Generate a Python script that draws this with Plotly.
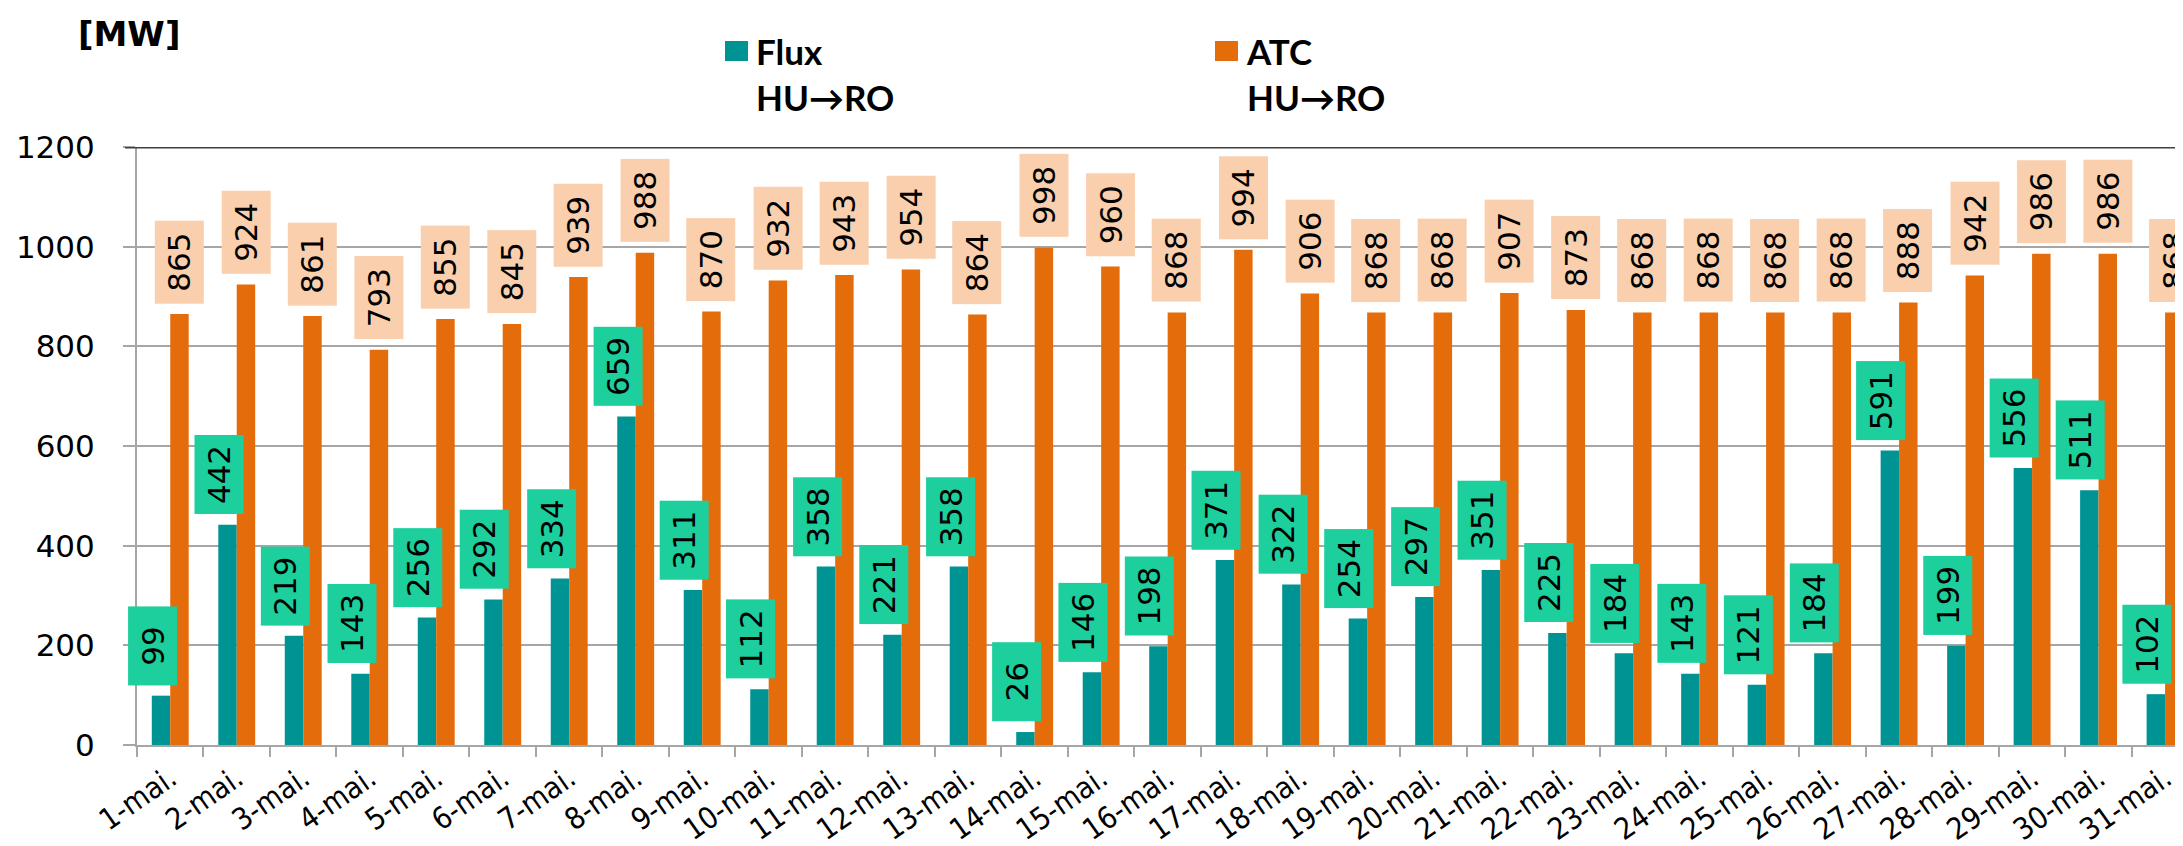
import plotly.graph_objects as go

# daily values, May
days = [f"{d}-mai." for d in range(1, 32)]
flux = [99, 442, 219, 143, 256, 292, 334, 659, 311, 112,
        358, 221, 358, 26, 146, 198, 371, 322, 254, 297,
        351, 225, 184, 143, 121, 184, 591, 199, 556, 511, 102]
atc = [865, 924, 861, 793, 855, 845, 939, 988, 870, 932,
       943, 954, 864, 998, 960, 868, 994, 906, 868, 868,
       907, 873, 868, 868, 868, 868, 888, 942, 986, 986, 868]
series_names = ["Flux", "ATC"]
direction = "HU→RO"

teal = "#009393"
orange = "#E46C0A"
grid = "#A6A6A6"
num_font = "DejaVu Sans"
cond_font = "DejaVu Sans Condensed, DejaVu Sans"

fig = go.Figure()
fig.add_trace(go.Bar(x=days, y=flux, name=series_names[0], showlegend=False,
                     marker=dict(color=teal, line=dict(width=0))))
fig.add_trace(go.Bar(x=days, y=atc, name=series_names[1], showlegend=False,
                     marker=dict(color=orange, line=dict(width=0))))

# data labels as rotated boxes above the bars
for d, v in zip(days, flux):
    fig.add_annotation(x=d, y=v, text=str(v), showarrow=False, textangle=-90,
                       xanchor="center", yanchor="bottom", xshift=-18, yshift=10,
                       width=76, height=46, bgcolor="#1CCF9D",
                       font=dict(family=num_font, size=31, color="black"))
for d, v in zip(days, atc):
    fig.add_annotation(x=d, y=v, text=str(v), showarrow=False, textangle=-90,
                       xanchor="center", yanchor="bottom", xshift=9, yshift=10,
                       width=80, height=46, bgcolor="#F9CFAE",
                       font=dict(family=num_font, size=31, color="black"))

# plot area in pixels, used to place the hand-made legend and title
plot_l, plot_w, plot_t, plot_b = 129, 2054, 139, 737
plot_h = plot_b - plot_t
def px(x):
    return (x - plot_l) / plot_w
def py(y):
    return (plot_b - y) / plot_h

# dark border along the top of the plot area
fig.add_shape(type="line", xref="paper", yref="y", x0=px(117), x1=1, y0=1200, y1=1200,
              line=dict(color="#404040", width=3))

# legend drawn by hand (big squares, two-line labels)
for name, col, sx in [(series_names[0], teal, 717), (series_names[1], orange, 1207)]:
    fig.add_shape(type="rect", xref="paper", yref="paper",
                  x0=px(sx), x1=px(sx + 23), y0=py(53), y1=py(33),
                  fillcolor=col, line=dict(width=0))
    fig.add_annotation(xref="paper", yref="paper", x=px(sx + 29), y=py(20),
                       xanchor="left", yanchor="top", align="left", showarrow=False,
                       text=f"<b>{name}</b><br><b>{direction}</b>",
                       font=dict(family="Lato", size=35, color="black"))

fig.add_annotation(xref="paper", yref="paper", x=px(68), y=py(26), text="<b>[MW]</b>",
                   showarrow=False, xanchor="left", yanchor="middle",
                   font=dict(family="DejaVu Sans", size=34, color="black"))

fig.update_layout(
    width=2183, height=846,
    margin=dict(l=plot_l, r=0, t=plot_t, b=846 - plot_b),
    plot_bgcolor="white", paper_bgcolor="white",
    barmode="group", bargap=0.445, bargroupgap=0,
    showlegend=False,
    xaxis=dict(tickangle=-35, ticks="outside", ticklen=10, tickcolor=grid, tickwidth=2,
               tickson="boundaries", showline=True, linecolor=grid, linewidth=2,
               ticklabelstandoff=2,
               tickfont=dict(family=cond_font, size=30, color="black"),
               showgrid=False, range=[-0.5, 30.39]),
    yaxis=dict(range=[0, 1200], dtick=200, ticks="outside", ticklen=12,
               tickcolor=grid, tickwidth=2, showgrid=True, gridcolor=grid, gridwidth=2,
               showline=True, linecolor=grid, linewidth=2, zeroline=False,
               ticklabelstandoff=22,
               tickfont=dict(family=num_font, size=31, color="black")),
)

fig.write_html("out.html")
